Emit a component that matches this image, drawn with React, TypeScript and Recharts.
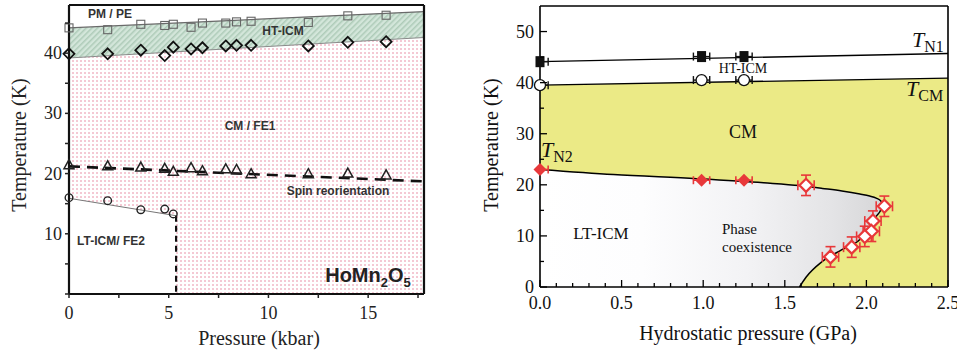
import {
  Area,
  ComposedChart,
  ErrorBar,
  Line,
  Scatter,
  XAxis,
  YAxis,
} from 'recharts';

// ---------- left panel: HoMn2O5, pressure in kbar ----------
const leftP = [0, 1.94, 3.6, 4.8, 5.23, 6.12, 6.69, 7.86, 8.4, 9.13, 12.0, 13.98, 15.9];
const squareT = [44.2, 43.9, 44.8, 44.6, 44.8, 44.3, 45.0, 45.0, 45.2, 45.3, 45.1, 46.2, 46.3];
const diamondT = [39.9, 39.9, 40.5, 39.6, 41.0, 40.7, 40.9, 41.2, 41.3, 41.3, 41.2, 41.8, 41.9];
const triangleT = [21.4, 21.2, 21.0, 20.8, 20.3, 20.9, 20.4, 20.7, 20.6, 19.9, 19.9, 20.0, 19.7];
const circleP = [0, 1.94, 3.6, 4.8, 5.23];
const circleT = [16.0, 15.5, 14.0, 14.1, 13.3];

const leftEdges = [0, 17.8];
const pmpeBoundary = [44.2, 46.9];
const cmBoundary = [39.2, 42.6];
const spinBoundary = [21.2, 18.7];
const ltEdges = [0, 5.37];
const ltBoundary = [15.9, 13.0];

const leftXTicks = [0, 2.5, 5, 7.5, 10, 12.5, 15, 17.5];
const leftYTicks = [0, 5, 10, 15, 20, 25, 30, 35, 40, 45];

// ---------- right panel: hydrostatic pressure in GPa ----------
const rightEdges = [0, 2.5];
const n1Boundary = [44.1, 45.7];
const cmLineT = [39.5, 40.9];

const filledP = [0, 0.99, 1.25];
const n1T = [44.1, 45.1, 45.1];
const cmT = [39.5, 40.5, 40.5];
const n2T = [23.0, 20.9, 20.9];
// [minus, plus]; the points at 0 GPa only show the right half of the bar
const filledPErr = [[0, 0.05], [0.05, 0.05], [0.05, 0.05]];
const filledTErr = [0.8, 0.8, 0.8];

const openP = [1.63, 2.11, 2.04, 2.03, 1.99, 1.91, 1.78];
const openT = [19.9, 15.8, 12.9, 10.9, 9.9, 7.8, 5.9];
const openPErr = [0.05, 0.05, 0.05, 0.05, 0.05, 0.05, 0.05];
const openTErr = [2, 2, 2, 2, 2, 2, 2];

// T_N2 boundary: upper branch and the re-entrant lower branch
const upperP = [0, 0.45, 0.96, 1.37, 1.59, 1.63, 1.73, 1.85, 1.96, 2.02, 2.06, 2.09, 2.1];
const upperT = [23.0, 22.0, 21.2, 20.4, 19.85, 19.7, 19.3, 18.8, 18.2, 17.8, 17.4, 16.8, 16.2];
const coexLowT = [0, 0, 0, 0, 0, 1.9, 5.0, 7.3, 9.3, 11.6, 13.8, 15.2, 16.2];
const lowerP = [1.59, 1.63, 1.73, 1.85, 1.96, 2.02, 2.06, 2.09, 2.1];
const lowerT = [0, 1.9, 5.0, 7.3, 9.3, 11.6, 13.8, 15.2, 16.2];

const rightXTicks = [
  0, 0.1, 0.2, 0.3, 0.4, 0.5, 0.6, 0.7, 0.8, 0.9, 1.0, 1.1, 1.2, 1.3, 1.4, 1.5,
  1.6, 1.7, 1.8, 1.9, 2.0, 2.1, 2.2, 2.3, 2.4, 2.5,
];
const rightYTicks = [0, 5, 10, 15, 20, 25, 30, 35, 40, 45, 50];

const pts = (ps: number[], ts: number[]) => ps.map((p, i) => ({ p, t: ts[i] }));
const band = (ps: number[], lo: number[], hi: number[]) =>
  ps.map((p, i) => ({ p, band: [lo[i], hi[i]] }));

const SERIF = '"Liberation Serif", "Times New Roman", serif';
const SANS = '"Liberation Sans", Arial, sans-serif';
const RED = '#e8383a';

const isMajor = (v: number, step: number) => Math.abs(v / step - Math.round(v / step)) < 1e-6;

const LeftXTick = (props: any) => {
  const { x, y, payload } = props;
  const v = payload.value;
  return (
    <g>
      <line x1={x} y1={y} x2={x} y2={y + 4} stroke="#222" strokeWidth={1.5} />
      {isMajor(v, 5) && (
        <text x={x} y={y + 19} textAnchor="middle" dominantBaseline="central" fontFamily={SERIF} fontSize={18} fill="#222">
          {v}
        </text>
      )}
    </g>
  );
};

const LeftYTick = (props: any) => {
  const { x, y, payload } = props;
  const v = payload.value;
  return (
    <g>
      <line x1={x} y1={y} x2={x - 4} y2={y} stroke="#222" strokeWidth={1.5} />
      {isMajor(v, 10) && v > 0 && (
        <text x={x - 7} y={y} textAnchor="end" dominantBaseline="central" fontFamily={SERIF} fontSize={18} fill="#222">
          {v}
        </text>
      )}
    </g>
  );
};

const tickFor = (side: 'bottom' | 'top' | 'left' | 'right') => (props: any) => {
  const { x, y, payload } = props;
  const v = payload.value;
  const horizontal = side === 'bottom' || side === 'top';
  const major = horizontal ? isMajor(v, 0.5) : isMajor(v, 10);
  const len = major ? 7 : 4;
  const dir = side === 'bottom' || side === 'right' ? -1 : 1;
  return (
    <g>
      {horizontal ? (
        <line x1={x} y1={y} x2={x} y2={y + dir * len} stroke="#000" strokeWidth={1.3} />
      ) : (
        <line x1={x} y1={y} x2={x + dir * len} y2={y} stroke="#000" strokeWidth={1.3} />
      )}
      {major && side === 'bottom' && (
        <text x={x} y={y + 16} textAnchor="middle" dominantBaseline="central" fontFamily={SERIF} fontSize={18} fill="#111">
          {v.toFixed(1)}
        </text>
      )}
      {major && side === 'left' && (
        <text x={x - 6} y={y} textAnchor="end" dominantBaseline="central" fontFamily={SERIF} fontSize={18} fill="#111">
          {v}
        </text>
      )}
    </g>
  );
};

const openSquare = (props: any) => {
  const { cx, cy } = props;
  return <rect x={cx - 4} y={cy - 4} width={8} height={8} fill="none" stroke="#666" strokeWidth={1.1} />;
};
const openDiamond = (props: any) => {
  const { cx, cy } = props;
  return (
    <path d={`M${cx},${cy - 5.5}L${cx + 5.5},${cy}L${cx},${cy + 5.5}L${cx - 5.5},${cy}Z`} fill="none" stroke="#111" strokeWidth={1.8} />
  );
};
const openTriangle = (props: any) => {
  const { cx, cy } = props;
  return (
    <path d={`M${cx},${cy - 5.5}L${cx + 5},${cy + 3.5}L${cx - 5},${cy + 3.5}Z`} fill="none" stroke="#222" strokeWidth={1.5} />
  );
};
const openCircle = (props: any) => {
  const { cx, cy } = props;
  return <circle cx={cx} cy={cy} r={3.8} fill="none" stroke="#222" strokeWidth={1.4} />;
};
const blackSquare = (props: any) => {
  const { cx, cy } = props;
  return <rect x={cx - 4.5} y={cy - 5.5} width={9} height={11} fill="#111" />;
};
const whiteCircle = (props: any) => {
  const { cx, cy } = props;
  return <circle cx={cx} cy={cy} r={5.5} fill="#fff" stroke="#111" strokeWidth={1.3} />;
};
const redDiamond = (props: any) => {
  const { cx, cy } = props;
  return <path d={`M${cx},${cy - 6.5}L${cx + 6.5},${cy}L${cx},${cy + 6.5}L${cx - 6.5},${cy}Z`} fill={RED} />;
};
const redOpenDiamond = (props: any) => {
  const { cx, cy } = props;
  return (
    <path d={`M${cx},${cy - 6.5}L${cx + 6.5},${cy}L${cx},${cy + 6.5}L${cx - 6.5},${cy}Z`} fill="#fff" stroke={RED} strokeWidth={2.2} />
  );
};

const withErr = (ps: number[], ts: number[], pe: (number | number[])[], te: number[]) =>
  ps.map((p, i) => ({ p, t: ts[i], ep: pe[i], et: te[i] }));

const label = (style: React.CSSProperties, text: React.ReactNode, key: string) => (
  <div
    key={key}
    style={{
      position: 'absolute',
      whiteSpace: 'nowrap',
      transform: 'translate(-50%, -50%)',
      lineHeight: 1,
      ...style,
    }}
  >
    {text}
  </div>
);

const LeftPanel = () => (
  <ComposedChart width={480} height={354} margin={{ top: 4, right: 55, bottom: 30, left: 29 }}>
    <defs>
      <pattern id="pinkDots" width={4} height={4} patternUnits="userSpaceOnUse">
        <rect width={4} height={4} fill="#fff" />
        <rect width={2} height={2} fill="#f4c9d4" />
      </pattern>
      <pattern id="greenHatch" width={4} height={4} patternUnits="userSpaceOnUse" patternTransform="rotate(45)">
        <rect width={4} height={4} fill="#d3e6da" />
        <rect width={1.5} height={4} fill="#aecbb8" />
      </pattern>
    </defs>
    <XAxis
      xAxisId={0}
      type="number"
      dataKey="p"
      domain={[0, 17.8]}
      ticks={leftXTicks}
      interval={0}
      height={30}
      tickSize={0}
      tickMargin={0}
      tickLine={false}
      tick={LeftXTick}
      axisLine={{ stroke: '#111', strokeWidth: 2.2 }}
    />
    <XAxis xAxisId="top" orientation="top" type="number" dataKey="p" domain={[0, 17.8]} height={1} tick={false} tickLine={false} axisLine={{ stroke: '#111', strokeWidth: 2.2 }} />
    <YAxis
      yAxisId={0}
      type="number"
      dataKey="t"
      domain={[0, 48]}
      ticks={leftYTicks}
      interval={0}
      width={40}
      tickSize={0}
      tickMargin={0}
      tickLine={false}
      tick={LeftYTick}
      axisLine={{ stroke: '#111', strokeWidth: 2.2 }}
    />
    <YAxis yAxisId="right" orientation="right" type="number" dataKey="t" domain={[0, 48]} width={1} tick={false} tickLine={false} axisLine={{ stroke: '#111', strokeWidth: 2.2 }} />

    <Area data={band(leftEdges, [0, 0], cmBoundary)} dataKey="band" type="linear" fill="url(#pinkDots)" fillOpacity={1} stroke="none" isAnimationActive={false} />
    <Area data={band(leftEdges, cmBoundary, pmpeBoundary)} dataKey="band" type="linear" fill="url(#greenHatch)" fillOpacity={1} stroke="none" isAnimationActive={false} />
    <Area data={band(ltEdges, [0, 0], ltBoundary)} dataKey="band" type="linear" fill="#fff" fillOpacity={1} stroke="none" isAnimationActive={false} />

    <Line data={pts(leftEdges, pmpeBoundary)} dataKey="t" type="linear" stroke="#6a6a6a" strokeWidth={1.2} dot={false} activeDot={false} isAnimationActive={false} />
    <Line data={pts(leftEdges, cmBoundary)} dataKey="t" type="linear" stroke="#8a8a8a" strokeWidth={1} dot={false} activeDot={false} isAnimationActive={false} />
    <Line data={pts(leftEdges, spinBoundary)} dataKey="t" type="linear" stroke="#111" strokeWidth={2.6} strokeDasharray="11 7" dot={false} activeDot={false} isAnimationActive={false} />
    <Line data={pts(ltEdges, ltBoundary)} dataKey="t" type="linear" stroke="#777" strokeWidth={1} dot={false} activeDot={false} isAnimationActive={false} />
    <Line data={pts([ltEdges[1], ltEdges[1]], [ltBoundary[1], 0])} dataKey="t" type="linear" stroke="#111" strokeWidth={2.2} strokeDasharray="6 4" dot={false} activeDot={false} isAnimationActive={false} />

    <Scatter data={pts(leftP, squareT)} dataKey="t" shape={openSquare} isAnimationActive={false} />
    <Scatter data={pts(leftP, diamondT)} dataKey="t" shape={openDiamond} isAnimationActive={false} />
    <Scatter data={pts(leftP, triangleT)} dataKey="t" shape={openTriangle} isAnimationActive={false} />
    <Scatter data={pts(circleP, circleT)} dataKey="t" shape={openCircle} isAnimationActive={false} />
  </ComposedChart>
);

const RightPanel = () => (
  <ComposedChart width={477} height={354} margin={{ top: 5, right: 8, bottom: 37, left: 20 }}>
    <defs>
      <linearGradient id="coexGrad" x1="0" y1="0" x2="1" y2="0">
        <stop offset="0" stopColor="#ffffff" />
        <stop offset="0.3" stopColor="#fdfdfe" />
        <stop offset="0.6" stopColor="#f3f3f5" />
        <stop offset="0.85" stopColor="#e4e4e6" />
        <stop offset="1" stopColor="#d6d6d8" />
      </linearGradient>
    </defs>
    <XAxis
      xAxisId={0}
      type="number"
      dataKey="p"
      domain={[0, 2.5]}
      ticks={rightXTicks}
      interval={0}
      height={30}
      tickSize={0}
      tickMargin={0}
      tickLine={false}
      tick={tickFor('bottom')}
      axisLine={{ stroke: '#000', strokeWidth: 1.6 }}
    />
    <XAxis
      xAxisId="top"
      orientation="top"
      type="number"
      dataKey="p"
      domain={[0, 2.5]}
      ticks={rightXTicks}
      interval={0}
      height={1}
      tickSize={0}
      tickMargin={0}
      tickLine={false}
      tick={tickFor('top')}
      axisLine={{ stroke: '#000', strokeWidth: 1.6 }}
    />
    <YAxis
      yAxisId={0}
      type="number"
      dataKey="t"
      domain={[0, 55]}
      ticks={rightYTicks}
      interval={0}
      width={40}
      tickSize={0}
      tickMargin={0}
      tickLine={false}
      tick={tickFor('left')}
      axisLine={{ stroke: '#000', strokeWidth: 1.6 }}
    />
    <YAxis
      yAxisId="right"
      orientation="right"
      type="number"
      dataKey="t"
      domain={[0, 55]}
      ticks={rightYTicks}
      interval={0}
      width={1}
      tickSize={0}
      tickMargin={0}
      tickLine={false}
      tick={tickFor('right')}
      axisLine={{ stroke: '#000', strokeWidth: 1.6 }}
    />

    <Area data={band(rightEdges, [0, 0], cmLineT)} dataKey="band" type="linear" fill="#ebea86" fillOpacity={1} stroke="none" isAnimationActive={false} />
    <Area data={band(upperP, coexLowT, upperT)} dataKey="band" type="monotone" fill="url(#coexGrad)" fillOpacity={1} stroke="none" isAnimationActive={false} />

    <Line data={pts(rightEdges, n1Boundary)} dataKey="t" type="linear" stroke="#000" strokeWidth={1.3} dot={false} activeDot={false} isAnimationActive={false} />
    <Line data={pts(rightEdges, cmLineT)} dataKey="t" type="linear" stroke="#000" strokeWidth={1.3} dot={false} activeDot={false} isAnimationActive={false} />
    <Line data={pts(upperP, upperT)} dataKey="t" type="monotone" stroke="#000" strokeWidth={1.5} dot={false} activeDot={false} isAnimationActive={false} />
    <Line data={pts(lowerP, lowerT)} dataKey="t" type="monotone" stroke="#000" strokeWidth={1.5} dot={false} activeDot={false} isAnimationActive={false} />

    <Scatter data={withErr(filledP, n1T, filledPErr, filledTErr)} dataKey="t" shape={blackSquare} isAnimationActive={false}>
      <ErrorBar dataKey="ep" direction="x" width={4} stroke="#111" strokeWidth={1.4} isAnimationActive={false} />
      <ErrorBar dataKey="et" direction="y" width={4} stroke="#111" strokeWidth={1.4} isAnimationActive={false} />
    </Scatter>
    <Scatter data={withErr(filledP, cmT, filledPErr, filledTErr)} dataKey="t" shape={whiteCircle} isAnimationActive={false}>
      <ErrorBar dataKey="ep" direction="x" width={4} stroke="#111" strokeWidth={1.4} isAnimationActive={false} />
    </Scatter>
    <Scatter data={withErr(filledP, n2T, filledPErr, filledTErr)} dataKey="t" shape={redDiamond} isAnimationActive={false}>
      <ErrorBar dataKey="ep" direction="x" width={4} stroke={RED} strokeWidth={1.6} isAnimationActive={false} />
    </Scatter>
    <Scatter data={withErr(openP, openT, openPErr, openTErr)} dataKey="t" shape={redOpenDiamond} isAnimationActive={false}>
      <ErrorBar dataKey="ep" direction="x" width={5} stroke={RED} strokeWidth={1.6} isAnimationActive={false} />
      <ErrorBar dataKey="et" direction="y" width={5} stroke={RED} strokeWidth={1.6} isAnimationActive={false} />
    </Scatter>
  </ComposedChart>
);

const sub = (s: string, size: number, drop: number) => (
  <span style={{ fontSize: size, position: 'relative', top: drop }}>{s}</span>
);

export default function App() {
  const leftLabels = [
    label({ left: 110, top: 14, fontFamily: SANS, fontWeight: 700, fontSize: 12, color: '#333' }, 'PM / PE', 'pm'),
    label({ left: 283, top: 31, fontFamily: SANS, fontWeight: 700, fontSize: 12, color: '#333' }, 'HT-ICM', 'ht'),
    label({ left: 250, top: 126, fontFamily: SANS, fontWeight: 700, fontSize: 12, color: '#333' }, 'CM / FE1', 'cm'),
    label({ left: 338, top: 191, fontFamily: SANS, fontWeight: 700, fontSize: 12, color: '#333' }, 'Spin reorientation', 'spin'),
    label({ left: 111, top: 241, fontFamily: SANS, fontWeight: 700, fontSize: 12, color: '#333' }, 'LT-ICM/ FE2', 'lt'),
    label(
      { left: 368, top: 275, fontFamily: SANS, fontWeight: 700, fontSize: 20, color: '#222' },
      <>HoMn{sub('2', 13, 5)}O{sub('5', 13, 5)}</>,
      'formula',
    ),
    label({ left: 19, top: 145, fontFamily: SERIF, fontSize: 20, color: '#222', transform: 'translate(-50%, -50%) rotate(-90deg)' }, 'Temperature (K)', 'ly'),
    label({ left: 259, top: 338, fontFamily: SERIF, fontSize: 20, color: '#222' }, 'Pressure (kbar)', 'lx'),
  ];
  const rightLabels = [
    label({ left: 743, top: 69, fontFamily: SERIF, fontSize: 14, color: '#111' }, 'HT-ICM', 'rht'),
    label({ left: 743, top: 132, fontFamily: SERIF, fontSize: 18, color: '#111' }, 'CM', 'rcm'),
    label({ left: 601, top: 233, fontFamily: SERIF, fontSize: 17, color: '#111' }, 'LT-ICM', 'rlt'),
    label({ left: 722, top: 229, fontFamily: SERIF, fontSize: 15, color: '#111', transform: 'translate(0, -50%)' }, 'Phase', 'ph1'),
    label({ left: 722, top: 247, fontFamily: SERIF, fontSize: 15, color: '#111', transform: 'translate(0, -50%)' }, 'coexistence', 'ph2'),
    label(
      { left: 912, top: 29, fontFamily: SERIF, fontSize: 22, color: '#111', transform: 'none' },
      <><i>T</i>{sub('N1', 16, 5)}</>,
      'tn1',
    ),
    label(
      { left: 906, top: 78, fontFamily: SERIF, fontSize: 22, color: '#111', transform: 'none' },
      <><i>T</i>{sub('CM', 16, 5)}</>,
      'tcm',
    ),
    label(
      { left: 541, top: 139, fontFamily: SERIF, fontSize: 22, color: '#111', transform: 'none' },
      <><i>T</i>{sub('N2', 16, 5)}</>,
      'tn2',
    ),
    label({ left: 491, top: 145, fontFamily: SERIF, fontSize: 20, color: '#111', transform: 'translate(-50%, -50%) rotate(-90deg)' }, 'Temperature (K)', 'ry'),
    label({ left: 748, top: 333, fontFamily: SERIF, fontSize: 20, color: '#111' }, 'Hydrostatic pressure (GPa)', 'rx'),
  ];

  return (
    <div style={{ position: 'absolute', left: 0, top: 0, width: 957, height: 354, background: '#fff', overflow: 'hidden' }}>
      <div style={{ position: 'absolute', left: 0, top: 0 }}>
        <LeftPanel />
      </div>
      <div style={{ position: 'absolute', left: 480, top: 0 }}>
        <RightPanel />
      </div>
      <div style={{ position: 'absolute', left: 0, top: 0, width: 957, height: 354, pointerEvents: 'none' }}>
        {leftLabels}
        {rightLabels}
      </div>
    </div>
  );
}
